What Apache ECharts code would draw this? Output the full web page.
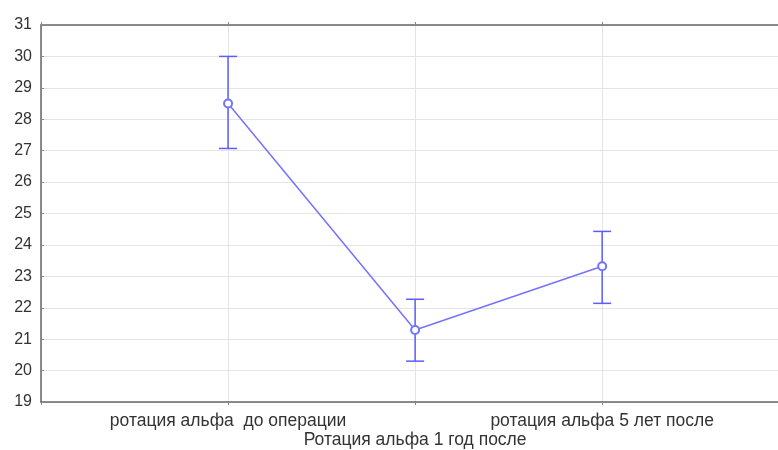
<!DOCTYPE html>
<html lang="ru">
<head>
    <meta charset="UTF-8">
    <title>Ротация альфа</title>
    <script src="https://cdn.jsdelivr.net/npm/echarts/dist/echarts.min.js"></script>
</head>
<body style="margin: 0">
    <div id="chart" style="width: 778px; height: 450px;"></div>
    <script>
        // данные
        const categories = ['ротация альфа  до операции', 'Ротация альфа 1 год после', 'ротация альфа 5 лет после'];
        const means = [28.5, 21.29, 23.32];
        const upper = [30.0, 22.27, 24.43];
        const lower = [27.07, 20.3, 22.14];

        const lineColor = '#7373ff';
        const barColor = '#5c5cff';

        const chart = echarts.init(document.getElementById('chart'));

        const points = means.map((v, i) => [i + 1, v]);
        const bars = means.map((v, i) => [i + 1, lower[i], upper[i]]);

        const option = {
            animation: false,
            grid: { left: 41, right: 0, top: 25, bottom: 47 },
            textStyle: { fontFamily: 'Liberation Sans, Arial, sans-serif' },
            xAxis: [
                {
                    type: 'value',
                    min: 0,
                    max: 3.94,
                    interval: 1,
                    axisLine: { show: true, lineStyle: { color: '#666', width: 1.5 } },
                    axisTick: { show: true, length: 3, lineStyle: { color: '#888' } },
                    splitLine: { show: true, lineStyle: { color: '#e4e4e4' } },
                    axisLabel: {
                        color: '#333',
                        fontSize: 17.5,
                        margin: 10,
                        lineHeight: 19,
                        showMaxLabel: false,
                        formatter: function (v) {
                            const i = Math.round(v) - 1;
                            if (Math.abs(v - Math.round(v)) > 1e-6 || i < 0 || i >= categories.length) return '';
                            return i === 1 ? '\n' + categories[i] : categories[i];
                        }
                    }
                },
                {
                    type: 'value',
                    position: 'top',
                    min: 0,
                    max: 3.94,
                    interval: 1,
                    axisLine: { show: true, lineStyle: { color: '#666', width: 1.5 } },
                    axisTick: { show: true, length: 3, lineStyle: { color: '#888' } },
                    axisLabel: { show: false },
                    splitLine: { show: false }
                }
            ],
            yAxis: {
                type: 'value',
                min: 19,
                max: 31,
                interval: 1,
                axisLine: { show: true, lineStyle: { color: '#666', width: 1.5 } },
                axisTick: { show: true, inside: true, length: 3, lineStyle: { color: '#888' } },
                splitLine: { lineStyle: { color: '#e4e4e4' } },
                axisLabel: { color: '#333', fontSize: 16, margin: 9 }
            },
            series: [
                {
                    type: 'custom',
                    renderItem: function (params, api) {
                        const x = api.value(0);
                        const lo = api.coord([x, api.value(1)]);
                        const hi = api.coord([x, api.value(2)]);
                        const half = 9;
                        const style = { stroke: barColor, lineWidth: 1.5 };
                        return {
                            type: 'group',
                            children: [
                                { type: 'line', shape: { x1: hi[0], y1: hi[1], x2: lo[0], y2: lo[1] }, style: style },
                                { type: 'line', shape: { x1: hi[0] - half, y1: hi[1], x2: hi[0] + half, y2: hi[1] }, style: style },
                                { type: 'line', shape: { x1: lo[0] - half, y1: lo[1], x2: lo[0] + half, y2: lo[1] }, style: style }
                            ]
                        };
                    },
                    data: bars,
                    z: 3
                },
                {
                    type: 'line',
                    data: points,
                    symbol: 'emptyCircle',
                    symbolSize: 8,
                    lineStyle: { color: lineColor, width: 1.5 },
                    itemStyle: { color: lineColor, borderColor: lineColor, borderWidth: 1.5 },
                    z: 4
                }
            ]
        };

        chart.setOption(option);
    </script>
</body>
</html>
